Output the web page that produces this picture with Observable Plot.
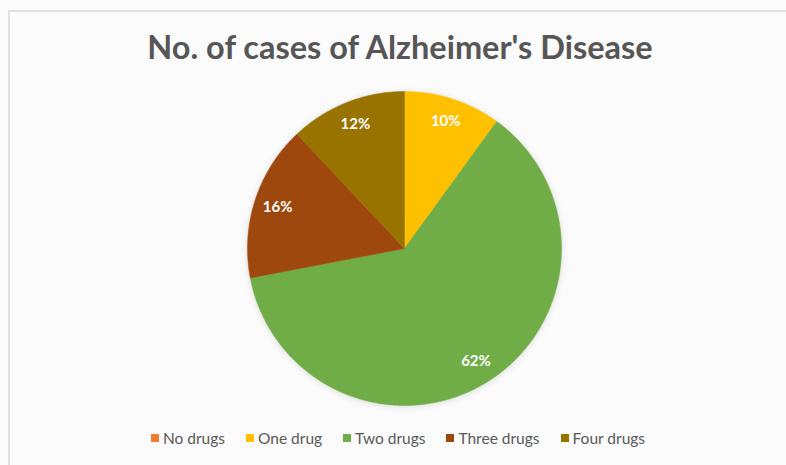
<!DOCTYPE html>
<html>
<head>
<meta charset="utf-8">
<script src="https://cdn.jsdelivr.net/npm/d3@7"></script>
<script src="https://cdn.jsdelivr.net/npm/@observablehq/plot@0.6"></script>
<style>
  html, body { margin: 0; padding: 0; background: #fcfbfc; }
  #wrap { position: relative; width: 786px; height: 465px; overflow: hidden; background: #fcfbfc; font-family: Lato, "Open Sans", sans-serif; }
  #frame { position: absolute; left: 8px; top: 10px; width: 800px; height: 470px; border-left: 2px solid #e3e1e3; border-top: 2px solid #e3e1e3; box-sizing: border-box; }
  #title { position: absolute; left: 0; width: 800px; top: 27px; text-align: center; font-size: 32.5px; font-weight: 700; color: #565656; white-space: nowrap; }
  #chart { position: absolute; left: 0; top: 0; }
  #legend { position: absolute; left: 0; width: 796px; top: 429px; display: flex; justify-content: center; gap: 21px; font-size: 15.5px; color: #595959; }
  .item { display: flex; align-items: center; gap: 4px; }
  .sw { width: 8px; height: 8px; display: inline-block; }
</style>
</head>
<body>
<div id="wrap">
  <div id="frame"></div>
  <div id="title"></div>
  <div id="chart"></div>
  <div id="legend"></div>
</div>
<script>
const titleText = "No. of cases of Alzheimer's Disease";
const categories = ["No drugs", "One drug", "Two drugs", "Three drugs", "Four drugs"];
const values = [0, 10, 62, 16, 12];
const colors = ["#ED7D31", "#FFC000", "#70AD47", "#9E480E", "#997300"];

document.getElementById("title").textContent = titleText;

const arcs = d3.pie().sort(null).value(d => d)(values);
const slicePts = [];
const labels = [];
arcs.forEach((a, i) => {
  if (a.endAngle - a.startAngle <= 0) return;
  const cat = categories[i];
  slicePts.push({cat, x: 0, y: 0});
  const n = Math.max(2, Math.ceil((a.endAngle - a.startAngle) / 0.01));
  for (let k = 0; k <= n; k++) {
    const t = a.startAngle + (a.endAngle - a.startAngle) * k / n;
    slicePts.push({cat, x: Math.sin(t), y: Math.cos(t)});
  }
  slicePts.push({cat, x: 0, y: 0});
  const m = (a.startAngle + a.endAngle) / 2;
  labels.push({cat, x: 0.85 * Math.sin(m), y: 0.85 * Math.cos(m), text: values[i] + "%"});
});

const R = 157, cx = 404, cy = 248, W = 786, H = 465;
const chart = Plot.plot({
  width: W, height: H,
  marginLeft: cx - R, marginRight: W - (cx + R),
  marginTop: cy - R, marginBottom: H - (cy + R),
  x: {domain: [-1, 1], axis: null},
  y: {domain: [-1, 1], axis: null},
  color: {domain: categories, range: colors},
  style: {background: "transparent", overflow: "visible"},
  marks: [
    Plot.line(slicePts, {x: "x", y: "y", z: "cat", fill: "cat", stroke: "cat", strokeWidth: 0.5, curve: "linear"}),
    Plot.text(labels, {x: "x", y: "y", text: "text", fill: "white", fontWeight: 700, fontSize: 15, fontFamily: "Lato, sans-serif"})
  ]
});
chart.querySelector("g[aria-label='line']")?.setAttribute("filter", "drop-shadow(0px 1px 3px rgba(0,0,0,0.12))");
document.getElementById("chart").appendChild(chart);

const legend = document.getElementById("legend");
categories.forEach((c, i) => {
  const it = document.createElement("div");
  it.className = "item";
  const sw = document.createElement("span");
  sw.className = "sw"; sw.style.background = colors[i];
  const tx = document.createElement("span");
  tx.textContent = c;
  it.appendChild(sw); it.appendChild(tx);
  legend.appendChild(it);
});
</script>
</body>
</html>
